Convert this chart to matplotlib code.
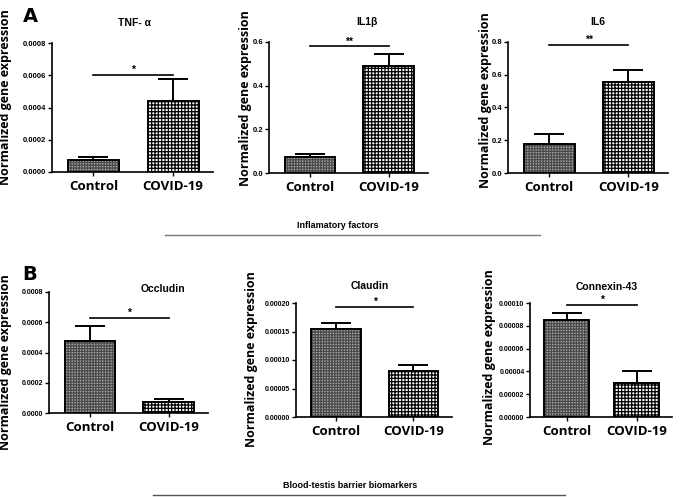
import numpy as np
import matplotlib
matplotlib.use("Agg")
import matplotlib.pyplot as plt
from matplotlib.lines import Line2D
from matplotlib.ticker import FormatStrFormatter

W, H = 685, 497

groups = ["Control", "COVID-19"]
titles = ["TNF- α", "IL1β", "IL6", "Occludin", "Claudin", "Connexin-43"]
ctrl_mean = [0.000075, 0.075, 0.18, 0.000475, 0.000155, 0.000085]
ctrl_err = [0.00002, 0.012, 0.058, 0.0001, 0.00001, 0.000006]
covid_mean = [0.00044, 0.488, 0.556, 0.000075, 0.00008, 0.00003]
covid_err = [0.000135, 0.057, 0.072, 0.000016, 0.000012, 0.00001]
y_max = [0.0008, 0.6, 0.8, 0.0008, 0.0002, 0.0001]
y_step = [0.0002, 0.2, 0.2, 0.0002, 0.00005, 0.00002]
y_fmt = ["%.4f", "%.1f", "%.1f", "%.4f", "%.5f", "%.5f"]
sig_y = [0.0006, 0.58, 0.78, 0.00063, 0.000193, 0.000098]
sig_txt = ["*", "**", "**", "*", "*", "*"]

# pixel boxes: left, top, right, bottom
boxes = [(52, 43, 213, 172), (269, 42, 428, 173), (508, 42, 668, 173),
         (49, 292, 208, 413), (296, 303, 452, 417), (530, 303, 672, 417)]
title_pos = [(135, 23), (367, 22), (598, 22), (163, 289), (370, 286), (607, 287)]
ylab_pos = [(6, 97), (245, 98), (486, 100), (6, 362), (251, 359), (489, 357)]

plt.rcParams['hatch.linewidth'] = 0.9
fig = plt.figure(figsize=(W / 100, H / 100), dpi=100)

def px(x, y):
    return x / W, 1 - y / H

for i in range(6):
    l, t, r, b = boxes[i]
    ax = fig.add_axes([l / W, 1 - b / H, (r - l) / W, (b - t) / H])
    xs = np.arange(2)
    vals = [ctrl_mean[i], covid_mean[i]]
    errs = [ctrl_err[i], covid_err[i]]
    # hatched fills
    ax.bar(xs[0], vals[0], 0.64, color="#a8a8a8", edgecolor="#4a4a4a",
           hatch="++++++", linewidth=0, zorder=2)
    ax.bar(xs[1], vals[1], 0.64, color="white", edgecolor="black",
           hatch="+++++", linewidth=0, zorder=2)
    ax.bar(xs, vals, 0.64, color="none", edgecolor="black", linewidth=1.4, zorder=3)
    ax.errorbar(xs, vals, yerr=[[0, 0], errs], fmt="none", ecolor="black",
                elinewidth=1.4, capsize=11, capthick=1.4, zorder=4)
    ax.plot([0, 1], [sig_y[i], sig_y[i]], color="black", lw=1.2, clip_on=False)
    ax.text(0.5, sig_y[i], sig_txt[i], ha="center", va="bottom", fontsize=7.5,
            fontweight="bold", family="Liberation Sans")
    ax.set_xlim(-0.52, 1.5)
    ax.set_ylim(0, y_max[i])
    ax.set_yticks(np.arange(0, y_max[i] + y_step[i] / 2, y_step[i]))
    ax.yaxis.set_major_formatter(FormatStrFormatter(y_fmt[i]))
    ax.set_xticks(xs)
    ax.set_xticklabels(groups, fontsize=9.5, fontweight="bold", family="Open Sans")
    for s in ["top", "right"]:
        ax.spines[s].set_visible(False)
    for s in ["left", "bottom"]:
        ax.spines[s].set_linewidth(1.2)
    ax.tick_params(axis="y", length=3, width=1, labelsize=5.5 if i < 3 else 5, pad=1)
    ax.tick_params(axis="x", length=3, width=1, pad=3)
    for lab in ax.get_yticklabels():
        lab.set_family("Liberation Sans")
        lab.set_fontweight("bold")
    tx, ty = title_pos[i]
    fig.text(*px(tx, ty), titles[i], ha="center", va="center", fontsize=7.5,
             fontweight="bold", family="Liberation Sans")
    lx, ly = ylab_pos[i]
    fig.text(*px(lx, ly), "Normalized gene expression", rotation=90, ha="center",
             va="center", fontsize=9, fontweight="bold", family="Open Sans")

fig.text(*px(30, 16), "A", ha="center", va="center", fontsize=14, fontweight="bold")
fig.text(*px(30, 275), "B", ha="center", va="center", fontsize=14, fontweight="bold")

fig.text(*px(338, 225), "Inflamatory factors", ha="center", va="center",
         fontsize=6.5, fontweight="bold", family="Liberation Sans")
fig.add_artist(Line2D([165 / W, 540 / W], [1 - 235 / H, 1 - 235 / H],
                      color="#777777", lw=1))
fig.text(*px(350, 485), "Blood-testis barrier biomarkers", ha="center", va="center",
         fontsize=6.5, fontweight="bold", family="Liberation Sans")
fig.add_artist(Line2D([153 / W, 565 / W], [1 - 495 / H, 1 - 495 / H],
                      color="#555555", lw=1))

fig.savefig("out.png", dpi=100)
